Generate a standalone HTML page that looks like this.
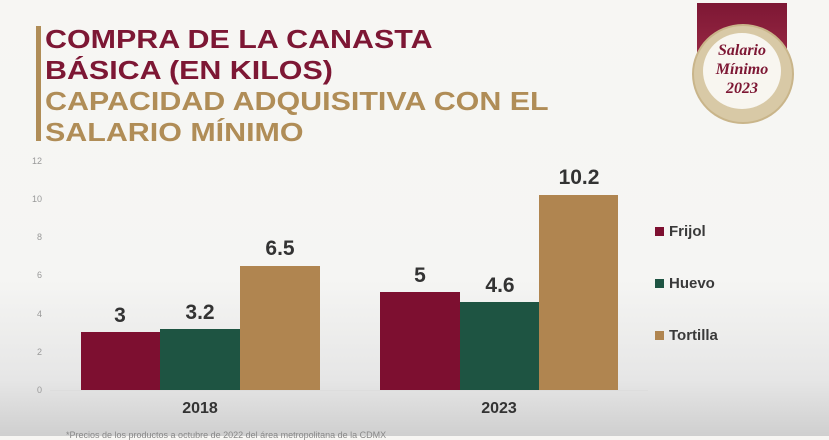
<!DOCTYPE html>
<html><head><meta charset="utf-8"><style>
*{margin:0;padding:0}
body{width:829px;height:436px;overflow:hidden;position:relative;font-family:"Liberation Sans",sans-serif;
background:linear-gradient(to bottom,#f7f6f3 0px,#f5f5f3 280px,#e6e6e6 380px,#cfcfcf 436px);}
.t{position:absolute;left:45px;font-weight:bold;font-size:26px;line-height:31px;transform:scaleX(1.17);transform-origin:left top;white-space:nowrap}
.bar{position:absolute}
.v{position:absolute;width:80px;text-align:center;font-weight:bold;font-size:21px;color:#333}
.tk{position:absolute;left:30px;font-size:9px;color:#999;width:12px;text-align:right}
.lg{position:absolute;left:655px;font-weight:bold;font-size:15px;color:#3a3a3a}
.lg i{display:inline-block;width:9px;height:9px;margin-right:5px;vertical-align:0}
</style></head><body>
<div style="position:absolute;left:36px;top:26px;width:5px;height:115px;background:#b08d57"></div>
<div class="t" style="top:24px;color:#7d1734">COMPRA DE LA CANASTA<br>BÁSICA (EN KILOS)</div>
<div class="t" style="top:86px;color:#b08d57">CAPACIDAD ADQUISITIVA CON EL<br>SALARIO MÍNIMO</div>
<div style="position:absolute;left:697px;top:3px;width:90px;height:60px;background:linear-gradient(#7d1734,#9a2a45)"></div>
<div style="position:absolute;left:692px;top:24px;width:98px;height:96px;border-radius:50%;background:#d8c9a6;border:2px solid #c9b58a"></div>
<div style="position:absolute;left:703px;top:33px;width:78px;height:76px;border-radius:50%;background:#f8f6f0;text-align:center;font-family:'Liberation Serif',serif;font-style:italic;font-weight:bold;color:#7d1734;font-size:16px;line-height:19px;padding-top:8px;box-sizing:border-box">Salario<br>Mínimo<br>2023</div>
<div class="tk" style="top:156px">12</div>
<div class="tk" style="top:194px">10</div>
<div class="tk" style="top:232px">8</div>
<div class="tk" style="top:270px">6</div>
<div class="tk" style="top:309px">4</div>
<div class="tk" style="top:347px">2</div>
<div class="tk" style="top:385px">0</div>
<div style="position:absolute;left:50px;top:390px;width:598px;height:1px;background:#ddd"></div>
<div class="bar" style="left:81px;top:332px;width:79px;height:58px;background:#7d0f30"></div>
<div class="bar" style="left:160px;top:329px;width:80px;height:61px;background:#1e5442"></div>
<div class="bar" style="left:240px;top:266px;width:80px;height:124px;background:#b08550"></div>
<div class="bar" style="left:380px;top:292px;width:80px;height:98px;background:#7d0f30"></div>
<div class="bar" style="left:460px;top:302px;width:79px;height:88px;background:#1e5442"></div>
<div class="bar" style="left:539px;top:195px;width:79px;height:195px;background:#b08550"></div>
<div class="v" style="left:80px;top:304px">3</div>
<div class="v" style="left:160px;top:301px">3.2</div>
<div class="v" style="left:240px;top:237px">6.5</div>
<div class="v" style="left:380px;top:264px">5</div>
<div class="v" style="left:460px;top:274px">4.6</div>
<div class="v" style="left:539px;top:166px">10.2</div>
<div class="v" style="left:160px;top:400px;font-size:16px">2018</div>
<div class="v" style="left:459px;top:400px;font-size:16px">2023</div>
<div class="lg" style="top:223px"><i style="background:#7d0f30"></i>Frijol</div>
<div class="lg" style="top:275px"><i style="background:#1e5442"></i>Huevo</div>
<div class="lg" style="top:327px"><i style="background:#b08550"></i>Tortilla</div>
<div style="position:absolute;left:66px;top:430px;font-size:9px;color:#888">*Precios de los productos a octubre de 2022 del área metropolitana de la CDMX</div>
</body></html>
